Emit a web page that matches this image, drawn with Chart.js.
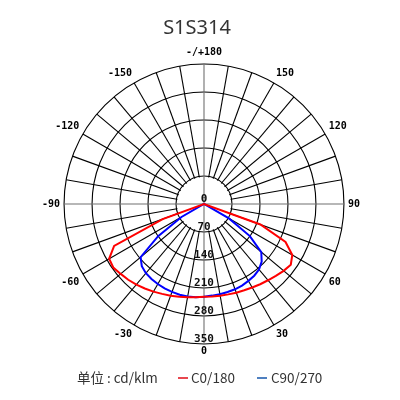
<!DOCTYPE html>
<html>
<head>
<meta charset="utf-8">
<script src="https://cdn.jsdelivr.net/npm/chart.js@4.4.1/dist/chart.umd.min.js"></script>
<style>
  body { margin: 0; background: #fff; }
  #wrap { position: relative; width: 400px; height: 400px; }
  #title { position: absolute; top: 15px; left: 0; width: 394px; text-align: center;
           font: 20px "Noto Sans", sans-serif; line-height: 24px; color: #333; }
  .leg { position: absolute; top: 368px; font: 13.5px "Noto Sans CJK SC", sans-serif;
         line-height: 18px; color: #333; white-space: nowrap; }
  .dash { position: absolute; top: 377px; width: 10px; height: 1.5px; }
</style>
</head>
<body>
<div id="wrap">
  <canvas id="polar-chart" width="400" height="400"></canvas>
  <div id="title">S1S314</div>
  <div class="leg" style="left:77px">单位 : cd/klm</div>
  <div class="dash" style="left:178px;background:#e8474f"></div>
  <div class="leg" style="left:191px">C0/180</div>
  <div class="dash" style="left:257px;background:#4f80c0"></div>
  <div class="leg" style="left:271px">C90/270</div>
</div>
<script>
const ctx = document.getElementById('polar-chart').getContext('2d');

// gamma angles, clockwise from the bottom (0) over the left side (-90) to the top (180)
const angleLabels = [0, -5, -10, -15, -20, -25, -30, -35, -40, -45, -50, -55, -60, -65, -70, -75, -80, -85,
    -90, -95, -100, -105, -110, -115, -120, -125, -130, -135, -140, -145, -150, -155, -160, -165, -170, -175,
    180, 175, 170, 165, 160, 155, 150, 145, 140, 135, 130, 125, 120, 115, 110, 105, 100, 95,
    90, 85, 80, 75, 70, 65, 60, 55, 50, 45, 40, 35, 30, 25, 20, 15, 10, 5];

// angle tick labels shown round the outside
const angleTicks = [0, -30, -60, -90, -120, -150, 180, 150, 120, 90, 60, 30];
const angleTickLabels = ['0', '-30', '-60', '-90', '-120', '-150', '-/+180', '150', '120', '90', '60', '30'];

// intensity ticks (cd/klm)
const radialTicks = [0, 70, 140, 210, 280, 350];

// measured values for the lower half, -90 .. 90 in 5 degree steps
const lowerAngles = [-90, -85, -80, -75, -70, -65, -60, -55, -50, -45, -40, -35, -30, -25, -20, -15, -10, -5,
    0, 5, 10, 15, 20, 25, 30, 35, 40, 45, 50, 55, 60, 65, 70, 75, 80, 85, 90];
const c0Values = [0, 0, 0, 0, 110, 248, 274, 277, 272, 268, 263, 258, 253, 248, 244, 240, 237, 234,
    232, 232, 233, 234, 236, 238, 241, 245, 249, 254, 260, 265, 255, 225, 150, 0, 0, 0, 0];
const c90Values = [0, 0, 0, 0, 0, 0, 65, 140, 207, 220, 226, 229, 231, 233, 234, 235, 235, 234,
    232, 230, 229, 228, 227, 225, 222, 219, 214, 204, 187, 140, 72, 0, 0, 0, 0, 0, 0];

function fullCircle(values) {
    return angleLabels.map(a => {
        const k = lowerAngles.indexOf(a);
        return k >= 0 ? values[k] : 0;
    });
}

const axisColor = '#707070';
const gridColor = '#000';

// blank the inner ring, keep the two axes, and write the intensity ticks
const polarDecor = {
    id: 'polarDecor',
    beforeDatasetsDraw(chart) {
        const s = chart.scales.r;
        const c = chart.ctx;
        const r1 = s.getDistanceFromCenterForValue(radialTicks[1]);
        c.save();
        c.fillStyle = '#fff';
        c.beginPath();
        c.arc(s.xCenter, s.yCenter, r1 - 1, 0, Math.PI * 2);
        c.fill();
        c.strokeStyle = axisColor;
        c.lineWidth = 1.1;
        [0, 18, 36, 54].forEach(i => {
            const p = s.getPointPosition(i, r1);
            c.beginPath();
            c.moveTo(s.xCenter, s.yCenter);
            c.lineTo(p.x, p.y);
            c.stroke();
        });
        c.font = 'bold 11px "DejaVu Sans Mono"';
        c.fillStyle = '#111';
        c.textAlign = 'center';
        c.textBaseline = 'middle';
        radialTicks.forEach(v => {
            const d = s.getDistanceFromCenterForValue(v);
            c.fillText(String(v), s.xCenter, s.yCenter + d - 5);
        });
        c.restore();
    }
};

const polarChart = new Chart(ctx, {
    type: 'radar',
    data: {
        labels: angleLabels,
        datasets: [{
            label: 'C0/180',
            data: fullCircle(c0Values),
            borderColor: 'rgb(255, 0, 0)',
            borderWidth: 2,
            fill: false,
            pointRadius: 0
        }, {
            label: 'C90/270',
            data: fullCircle(c90Values),
            borderColor: 'rgb(0, 0, 255)',
            borderWidth: 2,
            fill: false,
            pointRadius: 0
        }]
    },
    options: {
        responsive: false,
        animation: false,
        devicePixelRatio: 1,
        layout: {
            padding: { left: 39, right: 37, top: 41, bottom: 35 }
        },
        scales: {
            r: {
                min: 0,
                max: 350,
                startAngle: 180,
                ticks: { display: false, stepSize: 70 },
                grid: { circular: true, color: gridColor, lineWidth: 1.1 },
                angleLines: {
                    color: c => (c.index % 18 === 0 ? axisColor : gridColor),
                    lineWidth: c => (c.index % 2 ? 0 : 1.1)
                },
                pointLabels: {
                    display: true,
                    padding: c => (c.index === 36 ? 6 : c.index === 0 ? 1 : 4),
                    color: '#000',
                    font: { family: 'DejaVu Sans Mono', size: 10, weight: 'bold' },
                    callback: label => {
                        const k = angleTicks.indexOf(label);
                        return k >= 0 ? angleTickLabels[k] : '';
                    }
                }
            }
        },
        plugins: {
            legend: { display: false },
            tooltip: { enabled: false }
        }
    },
    plugins: [polarDecor]
});
</script>
</body>
</html>
